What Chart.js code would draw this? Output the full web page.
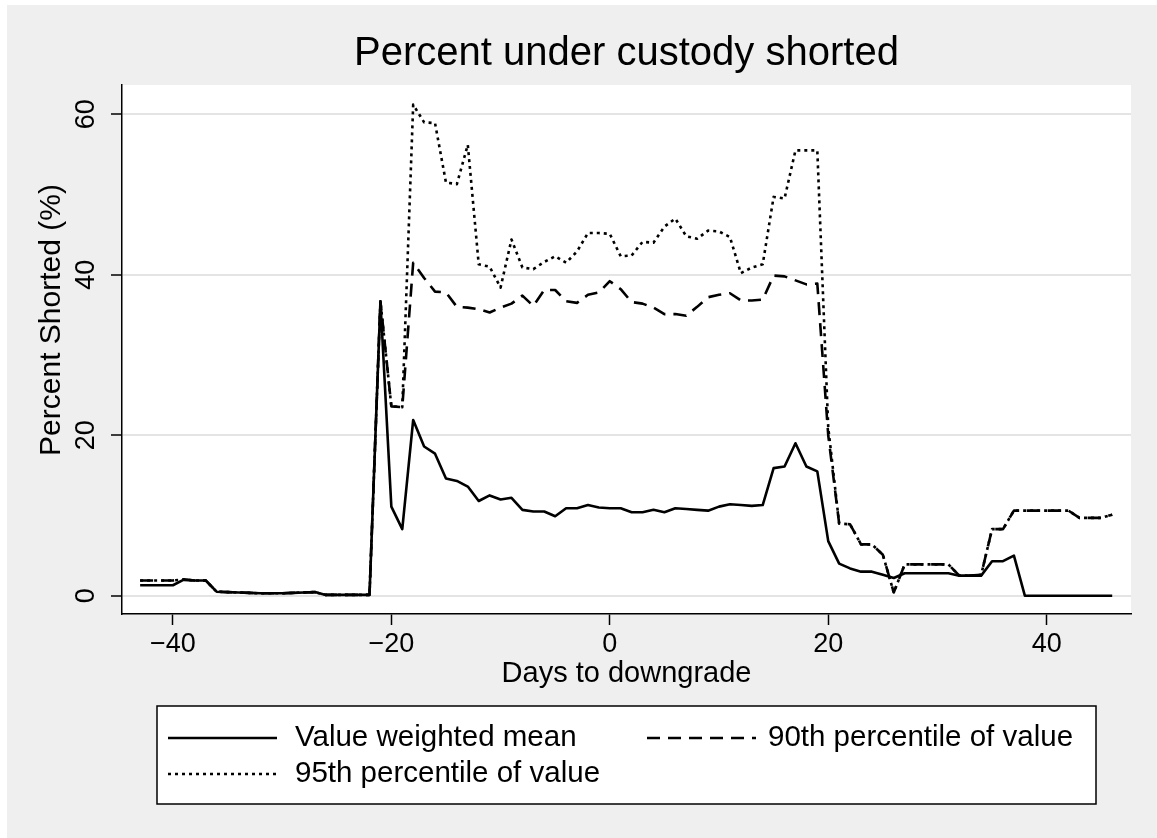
<!DOCTYPE html>
<html>
<head>
<meta charset="utf-8">
<title>Percent under custody shorted</title>
<script src="https://cdn.jsdelivr.net/npm/chart.js@4.4.1/dist/chart.umd.min.js"></script>
<style>
  html, body { margin: 0; padding: 0; background: #ffffff; }
  canvas { display: block; }
</style>
</head>
<body>
<canvas id="chart" width="1157" height="838"></canvas>
<script>
// days relative to the downgrade
const days = [
  -43, -42, -41, -40, -39, -38, -37, -36, -35, -34,
  -33, -32, -31, -30, -29, -28, -27, -26, -25, -24,
  -23, -22, -21, -20, -19, -18, -17, -16, -15, -14,
  -13, -12, -11, -10, -9, -8, -7, -6, -5, -4,
  -3, -2, -1, 0, 1, 2, 3, 4, 5, 6,
  7, 8, 9, 10, 11, 12, 13, 14, 15, 16,
  17, 18, 19, 20, 21, 22, 23, 24, 25, 26,
  27, 28, 29, 30, 31, 32, 33, 34, 35, 36,
  37, 38, 39, 40, 41, 42, 43, 44, 45, 46
];

const meanShorted = [
  1.3, 1.3, 1.3, 1.3, 2.0, 1.9, 1.9, 0.5, 0.45, 0.4,
  0.35, 0.3, 0.3, 0.3, 0.35, 0.4, 0.45, 0.1, 0.1, 0.1,
  0.1, 0.1, 36.7, 11.1, 8.3, 21.9, 18.6, 17.7, 14.6, 14.3,
  13.6, 11.8, 12.5, 12.0, 12.2, 10.7, 10.5, 10.5, 9.9, 10.9,
  10.9, 11.3, 11.0, 10.9, 10.9, 10.4, 10.4, 10.7, 10.4, 10.9,
  10.8, 10.7, 10.6, 11.1, 11.4, 11.3, 11.2, 11.3, 15.9, 16.1,
  19.0, 16.1, 15.5, 6.8, 4.0, 3.4, 3.0, 3.0, 2.6, 2.2,
  2.8, 2.8, 2.8, 2.8, 2.8, 2.5, 2.5, 2.5, 4.3, 4.3,
  5.0, 0, 0, 0, 0, 0, 0, 0, 0, 0
];

const p90Shorted = [
  1.9, 1.9, 1.9, 1.9, 2.0, 1.9, 1.9, 0.5, 0.45, 0.4,
  0.35, 0.3, 0.3, 0.3, 0.35, 0.4, 0.45, 0.1, 0.1, 0.1,
  0.1, 0.1, 36.7, 23.6, 23.5, 41.5, 39.6, 37.9, 37.8, 36.0,
  35.9, 35.7, 35.3, 35.9, 36.4, 37.4, 36.1, 38.1, 38.1, 36.7,
  36.5, 37.5, 37.8, 39.2, 38.2, 36.6, 36.4, 35.9, 35.1, 35.1,
  34.9, 36.0, 37.2, 37.5, 37.7, 36.8, 36.8, 36.9, 39.9, 39.8,
  39.3, 38.8, 38.9, 20.0, 9.0, 8.9, 6.4, 6.4, 5.1, 0.4,
  3.9, 3.9, 3.9, 3.9, 3.9, 2.5, 2.5, 2.6, 8.3, 8.3,
  10.6, 10.6, 10.6, 10.6, 10.6, 10.6, 9.7, 9.7, 9.7, 10.1
];

const p95Shorted = [
  1.9, 1.9, 1.9, 1.9, 2.0, 1.9, 1.9, 0.5, 0.45, 0.4,
  0.35, 0.3, 0.3, 0.3, 0.35, 0.4, 0.45, 0.1, 0.1, 0.1,
  0.1, 0.1, 36.7, 23.6, 23.5, 61.2, 59.0, 58.9, 51.5, 51.3,
  56.2, 41.3, 41.0, 38.4, 44.4, 40.9, 40.7, 41.6, 42.3, 41.5,
  42.9, 45.2, 45.2, 45.1, 42.3, 42.4, 44.1, 44.0, 46.0, 47.0,
  44.8, 44.5, 45.5, 45.4, 44.7, 40.2, 40.9, 41.3, 49.7, 49.5,
  55.5, 55.5, 55.5, 21.0, 9.0, 8.9, 6.4, 6.4, 5.1, 0.4,
  3.9, 3.9, 3.9, 3.9, 3.9, 2.5, 2.5, 2.6, 8.3, 8.3,
  10.6, 10.6, 10.6, 10.6, 10.6, 10.6, 9.7, 9.7, 9.7, 10.1
];

const xTicks = [-40, -20, 0, 20, 40];
const yTicks = [0, 20, 40, 60];

const chartTitle = 'Percent under custody shorted';
const yTitle = 'Percent Shorted (%)';
const xTitle = 'Days to downgrade';

const FONT = "'Liberation Sans', Arial, Helvetica, sans-serif";
Chart.defaults.font.family = FONT;
Chart.defaults.color = '#000';

const toPoints = vals => days.map((d, i) => ({ x: d, y: vals[i] }));
const minus = v => String(v).replace('-', '\u2212');

// grey graph region, white plot region, titles centred on the plot like Stata does
const backdrop = {
  id: 'backdrop',
  beforeDraw(chart) {
    const { ctx, width, height, chartArea: a } = chart;
    ctx.save();
    ctx.fillStyle = '#ffffff';
    ctx.fillRect(0, 0, width, height);
    ctx.fillStyle = '#efefef';
    ctx.fillRect(7, 5, width - 7, height - 5);
    ctx.fillStyle = '#ffffff';
    ctx.fillRect(a.left, a.top, a.right - a.left, a.bottom - a.top);

    ctx.fillStyle = '#000';
    ctx.textAlign = 'center';
    ctx.textBaseline = 'middle';
    ctx.font = '40px ' + FONT;
    ctx.fillText(chartTitle, (a.left + a.right) / 2, 54);

    ctx.font = '30px ' + FONT;
    ctx.translate(51.5, 320);
    ctx.rotate(-Math.PI / 2);
    ctx.fillText(yTitle, 0, 0);
    ctx.restore();
  }
};

// Stata style boxed legend, two columns
const boxLegend = {
  id: 'boxLegend',
  afterDraw(chart) {
    const { ctx } = chart;
    const sampleX = [168, 647];
    const textX = [295, 768];
    const rowY = [738, 774];
    const sampleLen = 109;
    ctx.save();
    ctx.fillStyle = '#ffffff';
    ctx.fillRect(157, 706, 939, 98);
    ctx.strokeStyle = '#000';
    ctx.lineWidth = 1.5;
    ctx.strokeRect(157, 706, 939, 98);
    chart.data.datasets.forEach((ds, i) => {
      const c = i % 2;
      const y = rowY[Math.floor(i / 2)];
      ctx.beginPath();
      ctx.setLineDash(ds.borderDash || []);
      ctx.lineWidth = ds.borderWidth;
      ctx.strokeStyle = ds.borderColor;
      ctx.moveTo(sampleX[c], y);
      ctx.lineTo(sampleX[c] + sampleLen, y);
      ctx.stroke();
      ctx.setLineDash([]);
      ctx.fillStyle = '#000';
      ctx.font = '29.5px ' + FONT;
      ctx.textBaseline = 'middle';
      ctx.textAlign = 'left';
      ctx.fillText(ds.label, textX[c], y);
    });
    ctx.restore();
  }
};

const lineStyle = {
  borderColor: '#000',
  borderWidth: 2.6,
  pointRadius: 0,
  pointHoverRadius: 0,
  tension: 0,
  fill: false,
  borderJoinStyle: 'round'
};

new Chart(document.getElementById('chart').getContext('2d'), {
  type: 'line',
  data: {
    datasets: [
      { ...lineStyle, label: 'Value weighted mean', data: toPoints(meanShorted), borderDash: [] },
      { ...lineStyle, label: '90th percentile of value', data: toPoints(p90Shorted), borderDash: [13, 8] },
      { ...lineStyle, label: '95th percentile of value', data: toPoints(p95Shorted), borderDash: [3, 4] }
    ]
  },
  options: {
    responsive: false,
    animation: false,
    devicePixelRatio: 1,
    layout: { padding: { left: 7, right: 26, top: 85, bottom: 138 } },
    plugins: {
      legend: { display: false },
      tooltip: { enabled: false },
      title: { display: false }
    },
    scales: {
      x: {
        type: 'linear',
        min: -44.66,
        max: 47.72,
        afterBuildTicks: s => { s.ticks = xTicks.map(v => ({ value: v })); },
        afterFit: s => { s.height = 86; },
        grid: { drawOnChartArea: false, drawTicks: true, tickLength: 11, tickColor: '#000', tickWidth: 1.5 },
        border: { display: true, color: '#000', width: 1.5 },
        ticks: { color: '#000', font: { size: 27 }, padding: 3, maxRotation: 0, minRotation: 0, callback: v => minus(v) },
        title: { display: true, text: xTitle, color: '#000', font: { size: 29 }, padding: { top: 0, bottom: 8.2 } }
      },
      y: {
        min: -2.28,
        max: 63.65,
        afterBuildTicks: s => { s.ticks = yTicks.map(v => ({ value: v })); },
        afterFit: s => { s.width = 115; },
        grid: { color: '#e4e4e4', lineWidth: 2, drawTicks: true, tickLength: 11, tickColor: '#000', tickWidth: 1.5 },
        border: { display: true, color: '#000', width: 1.5 },
        ticks: { color: '#000', font: { size: 27 }, padding: 9, minRotation: 90, maxRotation: 90, crossAlign: 'center', callback: v => minus(v) },
        title: { display: false }
      }
    }
  },
  plugins: [backdrop, boxLegend]
});
</script>
</body>
</html>
